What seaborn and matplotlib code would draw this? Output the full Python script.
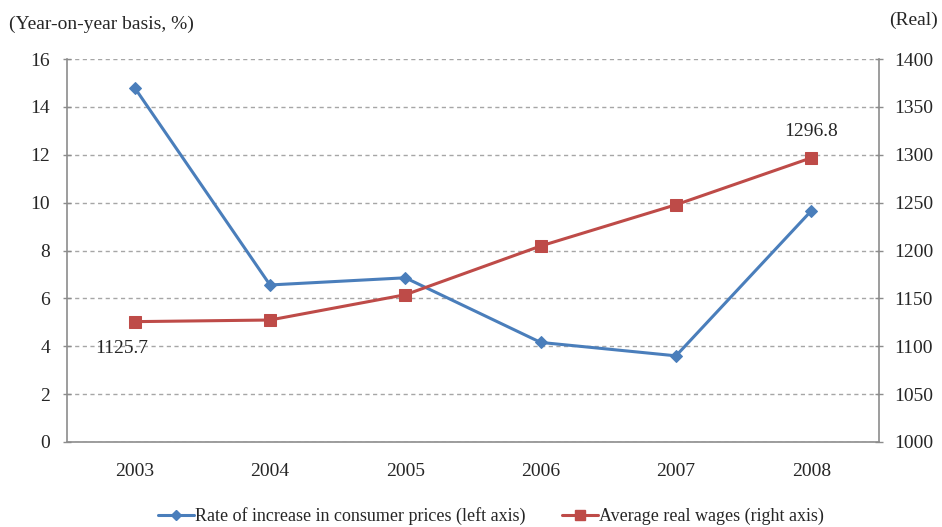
import matplotlib
matplotlib.use("Agg")
import matplotlib.pyplot as plt
import seaborn as sns
import pandas as pd
from matplotlib.lines import Line2D

years = ["2003", "2004", "2005", "2006", "2007", "2008"]
cpi_rate = [14.8, 6.56, 6.86, 4.16, 3.6, 9.66]
real_wages = [1125.7, 1127.4, 1153.8, 1204.7, 1247.8, 1296.8]

blue = "#4a7ebb"
red = "#be4b48"
grey = "#8c8c8c"
fs = 14

sns.set_theme(style="white")
plt.rcParams["font.family"] = ["Liberation Serif", "DejaVu Serif"]
plt.rcParams["font.size"] = fs

df = pd.DataFrame({"x": range(len(years)), "cpi": cpi_rate, "wages": real_wages})

fig = plt.figure(figsize=(9.42, 5.27), dpi=100)
ax = fig.add_axes([67 / 942, 1 - 442 / 527, (879 - 67) / 942, (442 - 59) / 527])
ax2 = ax.twinx()

sns.lineplot(data=df, x="x", y="cpi", ax=ax, color=blue, lw=2.2,
             marker="D", markersize=6, markeredgecolor=blue, zorder=3)
sns.lineplot(data=df, x="x", y="wages", ax=ax2, color=red, lw=2.2,
             marker="s", markersize=8, markeredgecolor=red, zorder=3)

ax.set_ylim(0, 16)
ax.set_yticks(range(0, 17, 2))
ax2.set_ylim(1000, 1400)
ax2.set_yticks(range(1000, 1401, 50))
ax.set_xlim(-0.5, len(years) - 0.5)
ax.set_xticks(range(len(years)))
ax.set_xticklabels(years)
ax.set_xticks([i - 0.5 for i in range(len(years) + 1)], minor=True)
ax.tick_params(axis="x", which="major", length=0, pad=15, labelsize=fs)
ax.tick_params(axis="x", which="minor", length=4, color=grey, width=1)
ax.tick_params(axis="y", length=6, direction="inout", color=grey, width=1,
               labelsize=fs, pad=9, left=True)
ax2.tick_params(axis="y", length=6, direction="inout", color=grey, width=1,
                labelsize=fs, pad=8, right=True)
ax.set_xlabel("")
ax.set_ylabel("")
ax2.set_ylabel("")

ax.yaxis.grid(True, linestyle=(0, (3, 2.5)), color="#a6a6a6", lw=1)
ax.set_axisbelow(True)
ax2.set_zorder(ax.get_zorder() + 1)
ax2.patch.set_visible(False)

for a in (ax, ax2):
    a.spines["top"].set_visible(False)
    for side in ("left", "right", "bottom"):
        a.spines[side].set_color(grey)
        a.spines[side].set_linewidth(1.2)
ax.spines["right"].set_visible(False)
ax2.spines["left"].set_visible(False)
ax2.spines["bottom"].set_visible(False)

ax2.annotate(f"{real_wages[0]:.1f}", (0, real_wages[0]), xytext=(-9, -19),
             textcoords="offset points", ha="center", va="center", fontsize=fs)
ax2.annotate(f"{real_wages[-1]:.1f}", (5, real_wages[-1]), xytext=(0, 19),
             textcoords="offset points", ha="center", va="center", fontsize=fs)

fig.text(9 / 942, 1 - 24 / 527, "(Year-on-year basis, %)", ha="left", va="center", fontsize=fs)
fig.text(938 / 942, 1 - 20 / 527, "(Real)", ha="right", va="center", fontsize=fs)

handles = [
    Line2D([], [], color=blue, lw=2.2, marker="D", markersize=5),
    Line2D([], [], color=red, lw=2.2, marker="s", markersize=7),
]
labels = ["Rate of increase in consumer prices (left axis)", "Average real wages (right axis)"]
fig.legend(handles, labels, loc="center", bbox_to_anchor=(0.521, 1 - 516 / 527), ncol=2,
           frameon=False, fontsize=13, handlelength=2.0, handletextpad=0.05,
           columnspacing=2.0)

fig.savefig("out.png", dpi=100)
